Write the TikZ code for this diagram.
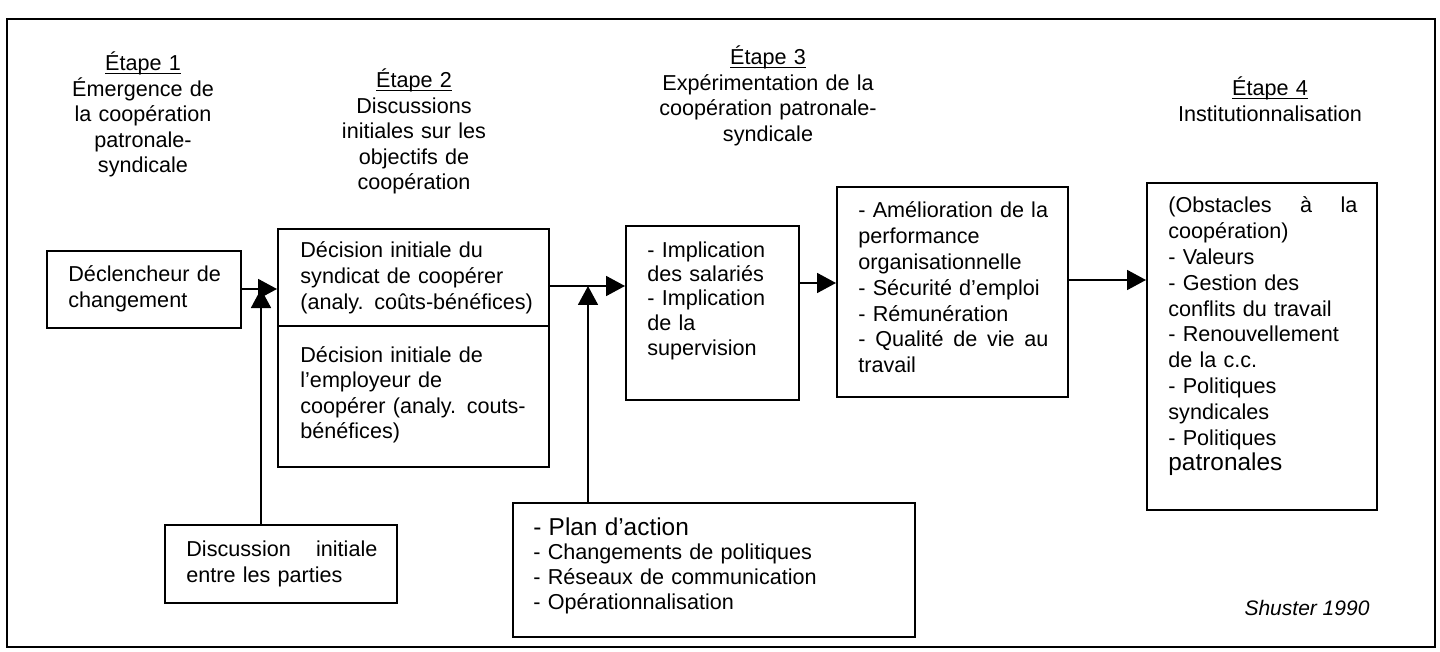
\documentclass[tikz,border=0pt]{standalone}
\usepackage{fontspec}
\setmainfont{Liberation Sans}
\usetikzlibrary{arrows.meta,fit}

\tikzset{
  box/.style={draw, line width=1pt, inner sep=0pt},
  txt/.style={inner sep=0pt, anchor=base west, align=left,
              font=\fontsize{10.8pt}{12.8pt}\selectfont},
  head/.style={inner sep=0pt, anchor=base, align=center, text width=125pt,
               font=\fontsize{10.8pt}{12.75pt}\selectfont},
  conn/.style={line width=0.9pt, -{Triangle[length=9.5pt,width=10pt]}},
}
\newcommand{\bigtxt}{\fontsize{12.2pt}{12.8pt}\selectfont}
\newcommand{\spreadline}[2]{\leavevmode\hbox to #1{#2}}
\newsavebox{\ulbox}
\newcommand{\myul}[1]{\sbox{\ulbox}{#1}\rlap{\rule[-1.6pt]{\wd\ulbox}{0.6pt}}\usebox{\ulbox}}

\begin{document}
\begin{tikzpicture}[x=0.5pt,y=-0.5pt]
\useasboundingbox (0,0) rectangle (1440,652);

% outer frame
\node[box, fit={(7,19) (1435,647)}] (frame) {};

% stage headings
\node[head] (h1) at (143,71) {\myul{Étape 1}\\Émergence de\\la coopération\\patronale-\\syndicale};
\node[head] (h2) at (414,88) {\myul{Étape 2}\\Discussions\\initiales sur les\\objectifs de\\coopération};
\node[head] (h3) at (768,65) {\myul{Étape 3}\\Expérimentation de la\\coopération patronale-\\syndicale};
\node[head] (h4) at (1270,96) {\myul{Étape 4}\\Institutionnalisation};

% boxes
\node[box, fit={(47,251) (241,328)}] (decl) {};
\node[txt, text width=85pt] (tdecl) at (68,282) {Déclencheur de\\changement};

\node[box, fit={(278,229) (549,467)}] (dec) {};
\coordinate (dv) at (400,326);
\draw[line width=1pt] (dec.west |- dv) -- (dec.east |- dv);
\node[txt, text width=122pt] (tdec1) at (300,258) {Décision initiale du\\syndicat de coopérer\\(analy. coûts-bénéfices)};
\node[txt, text width=122pt] (tdec2) at (300,362) {Décision initiale de\\l’employeur de\\coopérer (analy. couts-\\bénéfices)};

\node[box, fit={(626,226) (799,400)}] (impl) {};
\node[txt, text width=75pt, font=\fontsize{10.8pt}{12.25pt}\selectfont] (timpl) at (647,257) {- Implication\\des salariés\\- Implication\\de la\\supervision};

\node[box, fit={(837,187) (1068,397)}] (amel) {};
\node[txt, text width=95pt, font=\fontsize{10.8pt}{12.9pt}\selectfont] (tamel) at (858,218) {- Amélioration de la\\performance\\organisationnelle\\- Sécurité d’emploi\\- Rémunération\\\spreadline{95pt}{-\hfill Qualité\hfill de\hfill vie\hfill au}\\travail};

\node[box, fit={(1147,183) (1377,510)}] (obst) {};
\node[txt, text width=94.5pt, font=\fontsize{10.8pt}{12.9pt}\selectfont] (tobst) at (1168,213) {\spreadline{94.5pt}{(Obstacles\hfill à\hfill la}\\coopération)\\- Valeurs\\- Gestion des\\conflits du travail\\- Renouvellement\\de la c.c.\\- Politiques\\syndicales\\- Politiques\\{\bigtxt patronales}};

\node[box, fit={(165,525) (397,603)}] (disc) {};
\node[txt, text width=95.5pt, font=\fontsize{10.8pt}{13pt}\selectfont] (tdisc) at (186,556) {\spreadline{95.5pt}{Discussion\hfill initiale}\\entre les parties};

\node[box, fit={(513,503) (915,637)}] (plan) {};
\node[txt, text width=180pt, font=\fontsize{10.8pt}{12.4pt}\selectfont] (tplan) at (533,535) {{\bigtxt - Plan d’action}\\- Changements de politiques\\- Réseaux de communication\\- Opérationnalisation};

% source
\node[inner sep=0pt, anchor=base, font=\fontsize{10.5pt}{12pt}\selectfont\itshape] (src) at (1307,615) {Shuster 1990};

% connectors
\coordinate (j1) at (261,289);
\coordinate (r2) at (588,286);
\coordinate (r3) at (818,283);
\coordinate (r4) at (1100,280);

\draw[conn] (decl.east |- j1) -- (dec.west |- j1);
\draw[conn] (disc.north -| j1) -- (j1);
\draw[conn] (dec.east |- r2) -- (impl.west |- r2);
\draw[conn] (plan.north -| r2) -- (r2);
\draw[conn] (impl.east |- r3) -- (amel.west |- r3);
\draw[conn] (amel.east |- r4) -- (obst.west |- r4);
\end{tikzpicture}
\end{document}
